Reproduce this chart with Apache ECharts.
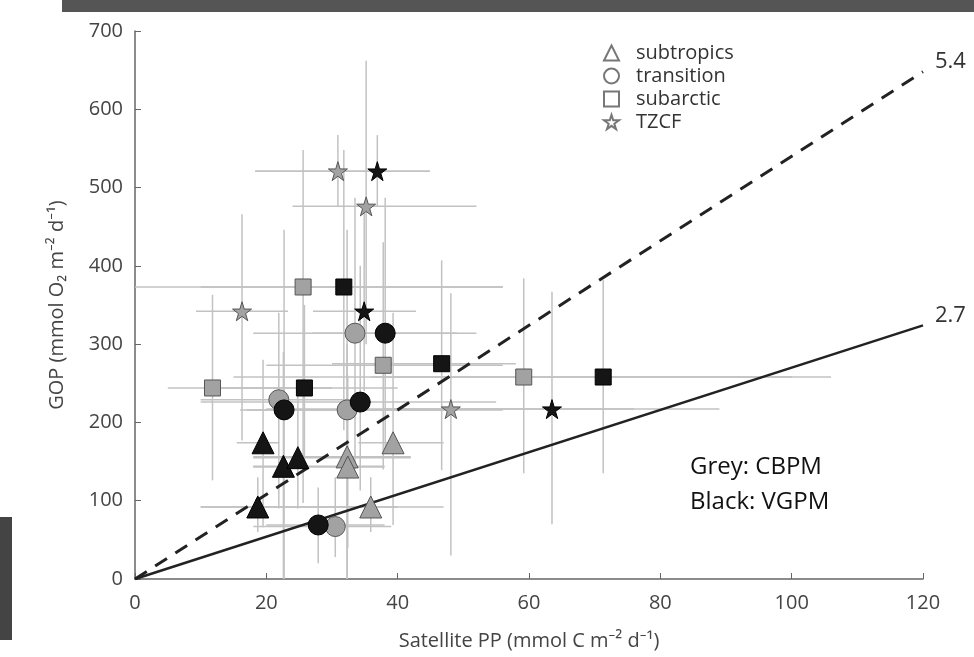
<!DOCTYPE html>
<html>
<head>
<meta charset="utf-8">
<title>GOP vs Satellite PP</title>
<script src="https://cdn.jsdelivr.net/npm/echarts@6/dist/echarts.min.js"></script>
<style>
html, body { margin: 0; padding: 0; background: #fff; }
#chart { width: 974px; height: 657px; }
</style>
</head>
<body>
<div id="chart"></div>
<script>
// each point: [PP, GOP, PP low, PP high, GOP low, GOP high]
var subtropicsGrey = [[39.3, 174, 34, 47, 69, 340], [32.3, 156, 18, 42, 0, 300], [32.4, 143, 18, 38, 40, 260], [35.9, 92, 10, 47, 60, 130]];
var subtropicsBlack = [[19.5, 174, 15.5, 22, 66, 280], [22.6, 144, 18, 38, 0, 290], [24.8, 155, 18, 42, 90, 240], [18.7, 92, 10, 40, 60, 130]];
var transitionGrey = [[21.9, 229, 10, 35, 90, 340], [32.3, 216, 17, 56, 0, 446], [33.5, 314, 18, 49, 140, 487], [30.5, 67, 18, 39, 28, 130]];
var transitionBlack = [[22.7, 216, 16, 47, 0, 446], [34.3, 226, 10, 55, 113, 400], [38.1, 314, 27, 52, 160, 487], [27.9, 69, 20, 38, 20, 117]];
var subarcticGrey = [[11.8, 244, 5, 30, 126, 363], [25.6, 373, 0, 56, 97, 548], [37.8, 273, 20, 56, 140, 430], [59.2, 258, 15, 100, 135, 384]];
var subarcticBlack = [[25.8, 244, 12, 40, 140, 350], [31.8, 373, 10, 56, 190, 548], [46.7, 275, 30, 58, 139, 407], [71.3, 258, 36, 106, 135, 382]];
var tzcfGrey = [[30.9, 521, 18.3, 44.9, 476, 567], [35.2, 476, 24, 52, 300, 662], [16.3, 342, 9.3, 23.3, 177, 466], [48.1, 217, 20, 76, 30, 365]];
var tzcfBlack = [[36.9, 521, 18.3, 44.9, 476, 567], [34.9, 342, 27.1, 42.8, 240, 480], [63.5, 217, 38, 89, 70, 367]];
var slopes = [2.7, 5.4];
var xTicks = [0, 120, 20];
var yTicks = [0, 700, 100];

var starPath = 'path://M50,0 L61,35 L98,35 L68,57 L79,91 L50,70 L21,91 L32,57 L2,35 L39,35 Z';
var allPoints = [].concat(subtropicsGrey, subtropicsBlack, transitionGrey, transitionBlack,
  subarcticGrey, subarcticBlack, tzcfGrey, tzcfBlack);

var myChart = echarts.init(document.getElementById('chart'));

function pointSeries(data, symbol, size, grey) {
  return {
    type: 'scatter',
    data: data.map(function (d) { return [d[0], d[1]]; }),
    symbol: symbol,
    symbolSize: size,
    z: grey ? 3 : 4,
    itemStyle: {
      color: grey ? '#a2a2a2' : '#151515',
      borderColor: grey ? '#555' : '#000',
      borderWidth: 1,
      opacity: 1
    },
    silent: true
  };
}

function legendSeries(name, symbol) {
  return {
    name: name,
    type: 'scatter',
    data: [],
    symbol: symbol,
    itemStyle: { color: '#fff', borderColor: '#777', borderWidth: 1.2, opacity: 1 }
  };
}

var font = '"Open Sans", "Noto Sans", sans-serif';

myChart.setOption({
  animation: false,
  grid: { left: 135, right: 51, top: 31, bottom: 78, outerBoundsMode: 'none' },
  legend: {
    left: 598,
    top: 38,
    orient: 'vertical',
    itemWidth: 15,
    itemHeight: 15,
    itemGap: 3,
    selectedMode: false,
    textStyle: { fontSize: 20, color: '#333', fontFamily: font, padding: [0, 0, 0, 12] },
    data: [
      { name: 'subtropics', icon: 'triangle' },
      { name: 'transition', icon: 'circle' },
      { name: 'subarctic', icon: 'rect' },
      { name: 'TZCF', icon: starPath }
    ]
  },
  xAxis: {
    type: 'value',
    min: xTicks[0],
    max: xTicks[1],
    interval: xTicks[2],
    name: 'Satellite PP (mmol C m\u207B\u00B2 d\u207B\u00B9)',
    nameLocation: 'middle',
    nameGap: 52,
    nameTextStyle: { fontSize: 20, color: '#444', fontFamily: font },
    splitLine: { show: false },
    axisLine: { lineStyle: { color: '#666', width: 1.5 } },
    axisTick: { inside: true, length: 6, lineStyle: { color: '#666' } },
    axisLabel: { fontSize: 20, color: '#444', fontFamily: font, margin: 14 }
  },
  yAxis: {
    type: 'value',
    min: yTicks[0],
    max: yTicks[1],
    interval: yTicks[2],
    name: 'GOP (mmol O\u2082 m\u207B\u00B2 d\u207B\u00B9)',
    nameLocation: 'middle',
    nameGap: 68,
    nameTextStyle: { fontSize: 20, color: '#444', fontFamily: font },
    splitLine: { show: false },
    axisLine: { show: true, lineStyle: { color: '#666', width: 1.5 } },
    axisTick: { show: true, inside: true, length: 6, lineStyle: { color: '#666' } },
    axisLabel: { fontSize: 20, color: '#444', fontFamily: font, margin: 12 }
  },
  graphic: [
    { type: 'rect', shape: { x: 62, y: 0, width: 912, height: 12 }, style: { fill: '#555' } },
    { type: 'rect', shape: { x: 0, y: 517, width: 12, height: 123 }, style: { fill: '#444' } },
    { type: 'text', left: 690, top: 455, style: { text: 'Grey: CBPM', fontSize: 24, fill: '#111', fontFamily: font } },
    { type: 'text', left: 690, top: 490, style: { text: 'Black: VGPM', fontSize: 24, fill: '#111', fontFamily: font } }
  ],
  series: [
    {
      type: 'custom',
      z: 1,
      silent: true,
      data: allPoints,
      encode: { x: 0, y: 1 },
      renderItem: function (params, api) {
        var xl = api.coord([api.value(2), api.value(1)]);
        var xh = api.coord([api.value(3), api.value(1)]);
        var yl = api.coord([api.value(0), api.value(4)]);
        var yh = api.coord([api.value(0), api.value(5)]);
        var st = { stroke: '#c2c2c2', lineWidth: 1.5 };
        return {
          type: 'group',
          children: [
            { type: 'line', shape: { x1: xl[0], y1: xl[1], x2: xh[0], y2: xh[1] }, style: st },
            { type: 'line', shape: { x1: yl[0], y1: yl[1], x2: yh[0], y2: yh[1] }, style: st }
          ]
        };
      }
    },
    {
      type: 'line',
      z: 2,
      silent: true,
      data: [[0, 0], [120, 120 * slopes[0]]],
      symbol: 'none',
      lineStyle: { color: '#222', width: 2.5 },
      endLabel: { show: true, formatter: String(slopes[0]), fontSize: 22, color: '#333', fontFamily: font, offset: [4, -10] }
    },
    {
      type: 'line',
      z: 2,
      silent: true,
      data: [[0, 0], [120, 120 * slopes[1]]],
      symbol: 'none',
      lineStyle: { color: '#222', width: 3, type: [14, 10] },
      endLabel: { show: true, formatter: String(slopes[1]), fontSize: 22, color: '#333', fontFamily: font, offset: [4, -10] }
    },
    pointSeries(subtropicsGrey, 'triangle', 22, true),
    pointSeries(subtropicsBlack, 'triangle', 22, false),
    pointSeries(transitionGrey, 'circle', 20, true),
    pointSeries(transitionBlack, 'circle', 20, false),
    pointSeries(subarcticGrey, 'rect', 16, true),
    pointSeries(subarcticBlack, 'rect', 16, false),
    pointSeries(tzcfGrey, starPath, 19, true),
    pointSeries(tzcfBlack, starPath, 19, false),
    legendSeries('subtropics', 'triangle'),
    legendSeries('transition', 'circle'),
    legendSeries('subarctic', 'rect'),
    legendSeries('TZCF', starPath)
  ]
});

window.addEventListener('resize', function () {
  myChart.resize();
});
</script>
</body>
</html>
